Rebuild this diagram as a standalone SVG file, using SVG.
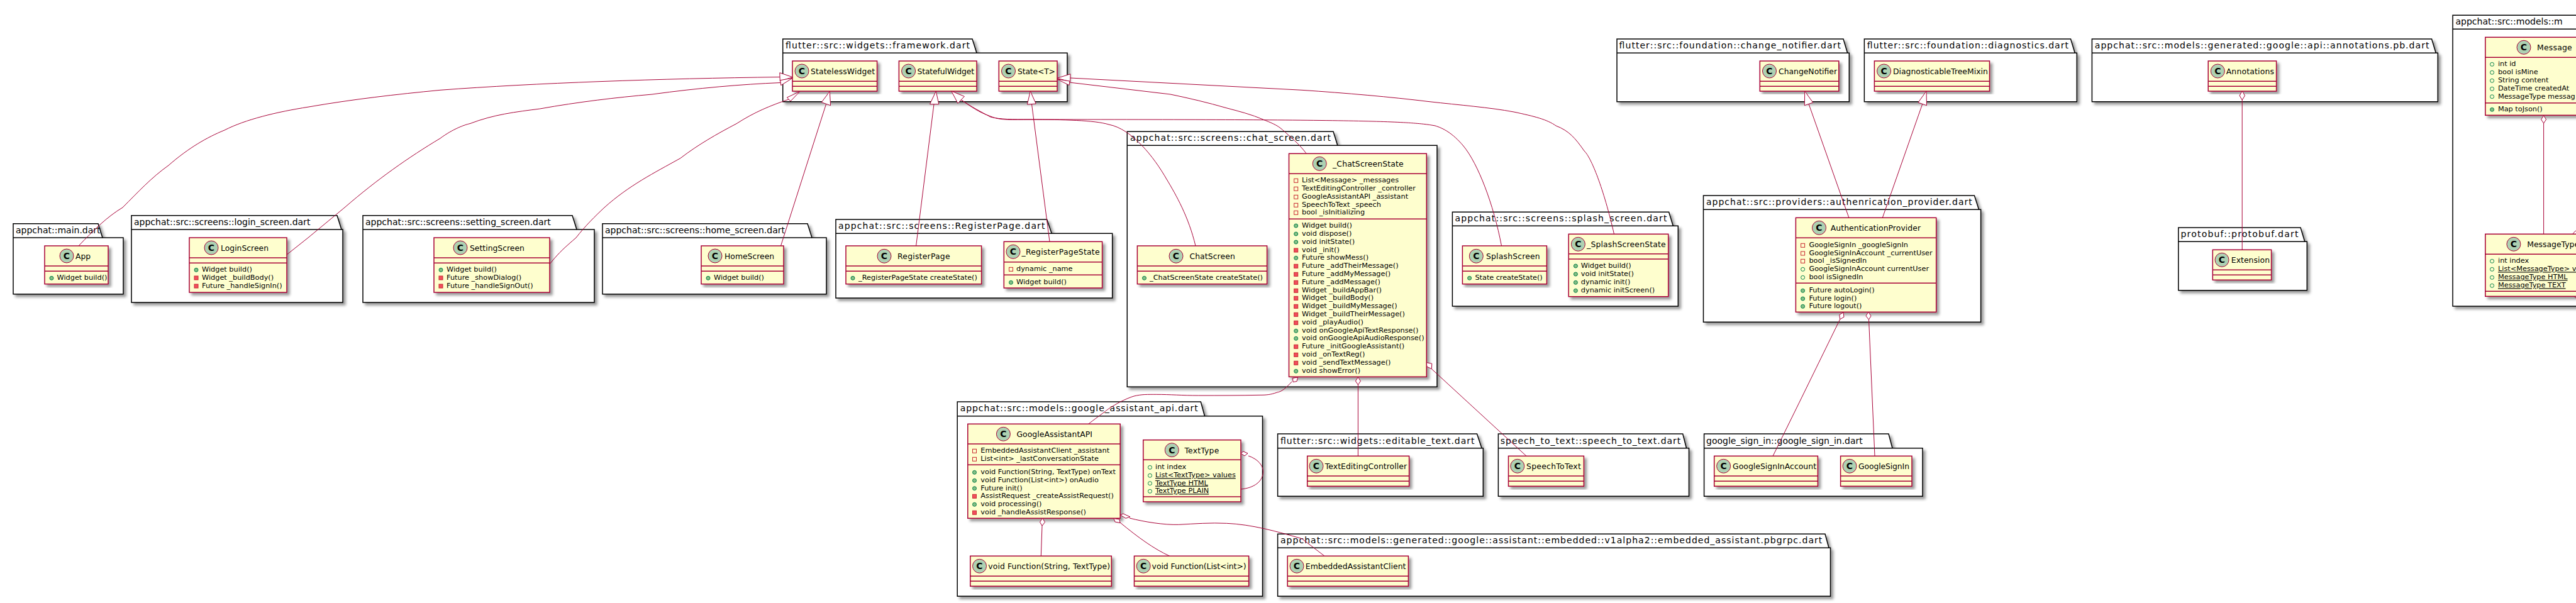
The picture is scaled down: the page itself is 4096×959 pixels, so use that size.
<svg xmlns="http://www.w3.org/2000/svg" width="4096" height="959" viewBox="0 0 4096 959">
<style>
text{font-family:"DejaVu Sans",sans-serif;fill:#000}
.t{font-size:14px}.n{font-size:12.4px}.m{font-size:11.3px}
.u{text-decoration:underline}
.c{font-size:14px;font-weight:bold;text-anchor:middle}
.p{fill:#fff;stroke:#000;stroke-width:1.5}
.pl{fill:none;stroke:#000;stroke-width:1.5}
.b{fill:#FEFECE;stroke:#A80036;stroke-width:1.5}
.d{stroke:#A80036;stroke-width:1.5;fill:none}
.o{fill:#ADD1B2;stroke:#A80036;stroke-width:1}
.k{fill:none;stroke:#C82930}.kf{fill:#F24D5C;stroke:#C82930}
.g{fill:none;stroke:#038048}.gf{fill:#84BE84;stroke:#038048}
#connectors path{fill:none;stroke:#A80036;stroke-width:1}
#connectors polygon{fill:#fff;stroke:#A80036;stroke-width:1}
</style>
<defs><filter id="s" x="-10%" y="-10%" width="120%" height="120%"><feGaussianBlur stdDeviation="2"/><feColorMatrix values="0 0 0 0 0 0 0 0 0 0 0 0 0 0 0 0 0 0 0.4 0"/><feOffset dx="4" dy="4" result="o"/><feBlend in="SourceGraphic" in2="o"/></filter></defs>

<g id="pkg-framework"><path class="p" filter="url(#s)" d="M1244.7 84.3V62H1546L1553 84.3H1697V161.7H1244.7Z"/><path class="pl" d="M1244.7 84.3H1553"/><text class="t" x="1249" y="77" textLength="293">flutter::src::widgets::framework.dart</text></g>
<g id="StatelessWidget"><rect class="b" filter="url(#s)" x="1260" y="97" width="134.6" height="48"/><path class="d" d="M1260 129.3H1394.6M1260 137.3H1394.6"/><circle class="o" cx="1275" cy="113" r="11"/><text class="c" x="1275" y="118">C</text><text class="n" x="1289" y="118" textLength="102">StatelessWidget</text></g>
<g id="StatefulWidget"><rect class="b" filter="url(#s)" x="1429.4" y="97" width="123.6" height="48"/><path class="d" d="M1429.4 129.3H1553M1429.4 137.3H1553"/><circle class="o" cx="1444.6" cy="113" r="11"/><text class="c" x="1444.6" y="118">C</text><text class="n" x="1458.4" y="118" textLength="90.6">StatefulWidget</text></g>
<g id="State"><rect class="b" filter="url(#s)" x="1588.3" y="97" width="92.7" height="48"/><path class="d" d="M1588.3 129.3H1681M1588.3 137.3H1681"/><circle class="o" cx="1603.5" cy="113" r="11"/><text class="c" x="1603.5" y="118">C</text><text class="n" x="1618" y="118" textLength="60">State&lt;T&gt;</text></g>

<g id="pkg-change"><path class="p" filter="url(#s)" d="M2571 84.3V62H2931L2937.6 84.3H2940.3V161.7H2571Z"/><path class="pl" d="M2571 84.3H2937.6"/><text class="t" x="2574.6" y="77" textLength="352.3">flutter::src::foundation::change_notifier.dart</text></g>
<g id="ChangeNotifier"><rect class="b" filter="url(#s)" x="2798.3" y="97" width="125.5" height="48"/><path class="d" d="M2798.3 129.3H2923.8M2798.3 137.3H2923.8"/><circle class="o" cx="2813.5" cy="113" r="11"/><text class="c" x="2813.5" y="118">C</text><text class="n" x="2828" y="118" textLength="93">ChangeNotifier</text></g>

<g id="pkg-diag"><path class="p" filter="url(#s)" d="M2964.4 84.3V62H3292.5L3299.2 84.3H3302.3V161.7H2964.4Z"/><path class="pl" d="M2964.4 84.3H3299.2"/><text class="t" x="2968.8" y="77" textLength="320.2">flutter::src::foundation::diagnostics.dart</text></g>
<g id="DiagnosticableTreeMixin"><rect class="b" filter="url(#s)" x="2980.4" y="97" width="183.1" height="48"/><path class="d" d="M2980.4 129.3H3163.5M2980.4 137.3H3163.5"/><circle class="o" cx="2995.6" cy="113" r="11"/><text class="c" x="2995.6" y="118">C</text><text class="n" x="3010" y="118" textLength="150.8">DiagnosticableTreeMixin</text></g>

<g id="pkg-annot"><path class="p" filter="url(#s)" d="M3326.4 84.3V62H3866.5L3873.2 84.3H3876.3V161.7H3326.4Z"/><path class="pl" d="M3326.4 84.3H3873.2"/><text class="t" x="3330.8" y="77" textLength="531.7">appchat::src::models::generated::google::api::annotations.pb.dart</text></g>
<g id="Annotations"><rect class="b" filter="url(#s)" x="3511.2" y="97" width="108.4" height="48"/><path class="d" d="M3511.2 129.3H3619.6M3511.2 137.3H3619.6"/><circle class="o" cx="3526.3" cy="113" r="11"/><text class="c" x="3526.3" y="118">C</text><text class="n" x="3539.7" y="118" textLength="76.3">Annotations</text></g>

<g id="pkg-protobuf"><path class="p" filter="url(#s)" d="M3463.8 384.3V362H3658L3664.7 384.3H3668.3V461.7H3463.8Z"/><path class="pl" d="M3463.8 384.3H3664.7"/><text class="t" x="3467.4" y="377" textLength="187">protobuf::protobuf.dart</text></g>
<g id="Extension"><rect class="b" filter="url(#s)" x="3518.3" y="397.3" width="93.3" height="48"/><path class="d" d="M3518.3 429.3H3611.6M3518.3 437.3H3611.6"/><circle class="o" cx="3533" cy="413.3" r="11"/><text class="c" x="3533" y="418.3">C</text><text class="n" x="3547.8" y="418.3" textLength="61.2">Extension</text></g>

<g id="pkg-message"><path class="p" filter="url(#s)" d="M3900 46.3V24.3H4120L4127 46.3H4200V487H3900Z"/><path class="pl" d="M3900 46.3H4127"/><text class="t" x="3904.5" y="39">appchat::src::models::m</text></g>
<g id="Message"><rect class="b" filter="url(#s)" x="3951.8" y="59.3" width="190" height="124"/><path class="d" d="M3951.8 91.3H4141.8M3951.8 163.7H4141.8"/><circle class="o" cx="4013" cy="75.3" r="11"/><text class="c" x="4013" y="80.3">C</text><text class="n" x="4034" y="80.3" textLength="55.7">Message</text>
<circle class="g" cx="3962.5" cy="102.3" r="3"/><text class="m" x="3971.9" y="105.3">int id</text>
<circle class="g" cx="3962.5" cy="115.3" r="3"/><text class="m" x="3971.9" y="118.3">bool isMine</text>
<circle class="g" cx="3962.5" cy="128.3" r="3"/><text class="m" x="3971.9" y="131.3">String content</text>
<circle class="g" cx="3962.5" cy="141.3" r="3"/><text class="m" x="3971.9" y="144.3">DateTime createdAt</text>
<circle class="g" cx="3962.5" cy="153.7" r="3"/><text class="m" x="3971.9" y="156.7">MessageType messag</text>
<circle class="gf" cx="3962.5" cy="174.3" r="3"/><text class="m" x="3971.9" y="177.3">Map toJson()</text></g>
<g id="MessageType"><rect class="b" filter="url(#s)" x="3951.8" y="372.3" width="190" height="99"/><path class="d" d="M3951.8 404.3H4141.8M3951.8 463.3H4141.8"/><circle class="o" cx="3996.9" cy="388.3" r="11"/><text class="c" x="3996.9" y="393.3">C</text><text class="n" x="4018.3" y="393.3">MessageType</text>
<circle class="g" cx="3962.5" cy="415.3" r="3"/><text class="m" x="3972" y="418.3">int index</text>
<circle class="g" cx="3962.5" cy="428.3" r="3"/><text class="m u" x="3972" y="431.3">List&lt;MessageType&gt; v</text>
<circle class="g" cx="3962.5" cy="441.3" r="3"/><text class="m u" x="3972" y="444.3">MessageType HTML</text>
<circle class="g" cx="3962.5" cy="454.3" r="3"/><text class="m u" x="3972" y="457.3">MessageType TEXT</text></g>

<g id="pkg-main"><path class="p" filter="url(#s)" d="M21 378V355.7H156L163 378H196V467.7H21Z"/><path class="pl" d="M21 378H163"/><text class="t" x="25" y="370.7">appchat::main.dart</text></g>
<g id="App"><rect class="b" filter="url(#s)" x="71" y="391" width="101" height="60.7"/><path class="d" d="M71 423H172M71 431.3H172"/><circle class="o" cx="106" cy="407" r="11"/><text class="c" x="106" y="412">C</text><text class="n" x="120" y="412">App</text><circle class="gf" cx="82" cy="442.3" r="3"/><text class="m" x="90.5" y="445.3">Widget build()</text></g>

<g id="pkg-login"><path class="p" filter="url(#s)" d="M209 365V342.7H536L543 365H545V481H209Z"/><path class="pl" d="M209 365H543"/><text class="t" x="213" y="358">appchat::src::screens::login_screen.dart</text></g>
<g id="LoginScreen"><rect class="b" filter="url(#s)" x="301" y="378" width="155" height="87"/><path class="d" d="M301 410H456M301 418.3H456"/><circle class="o" cx="336" cy="394" r="11"/><text class="c" x="336" y="399">C</text><text class="n" x="351" y="399">LoginScreen</text>
<circle class="gf" cx="312" cy="429.3" r="3"/><text class="m" x="321" y="432.3">Widget build()</text>
<rect class="kf" x="309" y="439" width="6" height="6"/><text class="m" x="321" y="445.3">Widget _buildBody()</text>
<rect class="kf" x="309" y="452" width="6" height="6"/><text class="m" x="321" y="458.3">Future _handleSignIn()</text></g>

<g id="pkg-setting"><path class="p" filter="url(#s)" d="M577 365V342.7H910L917 365H945V481H577Z"/><path class="pl" d="M577 365H917"/><text class="t" x="581" y="358">appchat::src::screens::setting_screen.dart</text></g>
<g id="SettingScreen"><rect class="b" filter="url(#s)" x="690" y="378" width="184" height="87"/><path class="d" d="M690 410H874M690 418.3H874"/><circle class="o" cx="732" cy="394" r="11"/><text class="c" x="732" y="399">C</text><text class="n" x="747" y="399">SettingScreen</text>
<circle class="gf" cx="701" cy="429.3" r="3"/><text class="m" x="710" y="432.3">Widget build()</text>
<rect class="kf" x="698" y="439" width="6" height="6"/><text class="m" x="710" y="445.3">Future _showDialog()</text>
<rect class="kf" x="698" y="452" width="6" height="6"/><text class="m" x="710" y="458.3">Future _handleSignOut()</text></g>

<g id="pkg-home"><path class="p" filter="url(#s)" d="M958 378V355.7H1284L1291 378H1314V467.7H958Z"/><path class="pl" d="M958 378H1291"/><text class="t" x="962" y="370.7">appchat::src::screens::home_screen.dart</text></g>
<g id="HomeScreen"><rect class="b" filter="url(#s)" x="1115" y="391" width="131" height="60.7"/><path class="d" d="M1115 423H1246M1115 431.3H1246"/><circle class="o" cx="1137" cy="407" r="11"/><text class="c" x="1137" y="412">C</text><text class="n" x="1152" y="412">HomeScreen</text><circle class="gf" cx="1126" cy="442.3" r="3"/><text class="m" x="1135" y="445.3">Widget build()</text></g>

<g id="pkg-register"><path class="p" filter="url(#s)" d="M1329 371.3V349H1664.6L1672.2 371.3H1768.7V474H1329Z"/><path class="pl" d="M1329 371.3H1672.2"/><text class="t" x="1333" y="364" textLength="328.5">appchat::src::screens::RegisterPage.dart</text></g>
<g id="RegisterPage"><rect class="b" filter="url(#s)" x="1345" y="391" width="215.6" height="60.7"/><path class="d" d="M1345 423H1560.6M1345 431.3H1560.6"/><circle class="o" cx="1406" cy="407.3" r="11"/><text class="c" x="1406" y="412.3">C</text><text class="n" x="1427" y="412.3" textLength="83.6">RegisterPage</text><circle class="gf" cx="1356" cy="442.3" r="3"/><text class="m" x="1365" y="445.3" textLength="189">_RegisterPageState createState()</text></g>
<g id="_RegisterPageState"><rect class="b" filter="url(#s)" x="1596.3" y="384.3" width="156.3" height="73.7"/><path class="d" d="M1596.3 416.7H1752.6M1596.3 437.3H1752.6"/><circle class="o" cx="1611" cy="400.3" r="11"/><text class="c" x="1611" y="405.3">C</text><text class="n" x="1624.5" y="405.3" textLength="124">_RegisterPageState</text>
<rect class="k" x="1604.5" y="425.3" width="6" height="6"/><text class="m" x="1616" y="431.3">dynamic _name</text>
<circle class="gf" cx="1607.5" cy="449.3" r="3"/><text class="m" x="1616" y="452.3">Widget build()</text></g>

<g id="pkg-chat"><path class="p" filter="url(#s)" d="M1792.3 231.3V209.3H2120L2126.8 231.3H2285V615.3H1792.3Z"/><path class="pl" d="M1792.3 231.3H2126.8"/><text class="t" x="1797" y="224" textLength="319">appchat::src::screens::chat_screen.dart</text></g>
<g id="ChatScreen"><rect class="b" filter="url(#s)" x="1808.4" y="391" width="206.2" height="60.7"/><path class="d" d="M1808.4 423H2014.6M1808.4 431.3H2014.6"/><circle class="o" cx="1870" cy="407.3" r="11"/><text class="c" x="1870" y="412.3">C</text><text class="n" x="1891.4" y="412.3" textLength="72.4">ChatScreen</text><circle class="gf" cx="1819.5" cy="442.3" r="3"/><text class="m" x="1828" y="445.3" textLength="180">_ChatScreenState createState()</text></g>
<g id="_ChatScreenState"><rect class="b" filter="url(#s)" x="2049.5" y="244.3" width="218.8" height="355"/><path class="d" d="M2049.5 276.3H2268.3M2049.5 348.3H2268.3"/><circle class="o" cx="2098.2" cy="260.3" r="11"/><text class="c" x="2098.2" y="265.3">C</text><text class="n" x="2119" y="265.3" textLength="112.7">_ChatScreenState</text>
<rect class="k" x="2057.7" y="284.3" width="6" height="6"/><text class="m" x="2070" y="290.3">List&lt;Message&gt; _messages</text>
<rect class="k" x="2057.7" y="297.3" width="6" height="6"/><text class="m" x="2070" y="303.3">TextEditingController _controller</text>
<rect class="k" x="2057.7" y="310.3" width="6" height="6"/><text class="m" x="2070" y="316.3">GoogleAssistantAPI _assistant</text>
<rect class="k" x="2057.7" y="323.3" width="6" height="6"/><text class="m" x="2070" y="329.3">SpeechToText _speech</text>
<rect class="k" x="2057.7" y="335.3" width="6" height="6"/><text class="m" x="2070" y="341.3">bool _isInitializing</text>
<circle class="gf" cx="2060.7" cy="359" r="3"/><text class="m" x="2070" y="362">Widget build()</text>
<circle class="gf" cx="2060.7" cy="372" r="3"/><text class="m" x="2070" y="375">void dispose()</text>
<circle class="gf" cx="2060.7" cy="385" r="3"/><text class="m" x="2070" y="388">void initState()</text>
<rect class="kf" x="2057.7" y="395" width="6" height="6"/><text class="m" x="2070" y="401">void _init()</text>
<circle class="gf" cx="2060.7" cy="410.3" r="3"/><text class="m" x="2070" y="413.3">Future showMess()</text>
<rect class="kf" x="2057.7" y="420.3" width="6" height="6"/><text class="m" x="2070" y="426.3">Future _addTheirMessage()</text>
<rect class="kf" x="2057.7" y="433.3" width="6" height="6"/><text class="m" x="2070" y="439.3">Future _addMyMessage()</text>
<rect class="kf" x="2057.7" y="446.3" width="6" height="6"/><text class="m" x="2070" y="452.3">Future _addMessage()</text>
<rect class="kf" x="2057.7" y="459.3" width="6" height="6"/><text class="m" x="2070" y="465.3">Widget _buildAppBar()</text>
<rect class="kf" x="2057.7" y="471.3" width="6" height="6"/><text class="m" x="2070" y="477.3">Widget _buildBody()</text>
<rect class="kf" x="2057.7" y="484.3" width="6" height="6"/><text class="m" x="2070" y="490.3">Widget _buildMyMessage()</text>
<rect class="kf" x="2057.7" y="497.3" width="6" height="6"/><text class="m" x="2070" y="503.3">Widget _buildTheirMessage()</text>
<rect class="kf" x="2057.7" y="510.3" width="6" height="6"/><text class="m" x="2070" y="516.3">void _playAudio()</text>
<circle class="gf" cx="2060.7" cy="526.3" r="3"/><text class="m" x="2070" y="529.3">void onGoogleApiTextResponse()</text>
<circle class="gf" cx="2060.7" cy="538.3" r="3"/><text class="m" x="2070" y="541.3">void onGoogleApiAudioResponse()</text>
<rect class="kf" x="2057.7" y="548.3" width="6" height="6"/><text class="m" x="2070" y="554.3">Future _initGoogleAssistant()</text>
<rect class="kf" x="2057.7" y="561.3" width="6" height="6"/><text class="m" x="2070" y="567.3">void _onTextReg()</text>
<rect class="kf" x="2057.7" y="574.3" width="6" height="6"/><text class="m" x="2070" y="580.3">void _sendTextMessage()</text>
<circle class="gf" cx="2060.7" cy="590.3" r="3"/><text class="m" x="2070" y="593.3">void showError()</text></g>

<g id="pkg-splash"><path class="p" filter="url(#s)" d="M2309.4 359.3V337.3H2653.6L2660.3 359.3H2668.3V487H2309.4Z"/><path class="pl" d="M2309.4 359.3H2660.3"/><text class="t" x="2313.4" y="352" textLength="337">appchat::src::screens::splash_screen.dart</text></g>
<g id="SplashScreen"><rect class="b" filter="url(#s)" x="2325.4" y="391" width="134" height="60.7"/><path class="d" d="M2325.4 423H2459.4M2325.4 431.3H2459.4"/><circle class="o" cx="2347.3" cy="407.3" r="11"/><text class="c" x="2347.3" y="412.3">C</text><text class="n" x="2363" y="412.3" textLength="85.7">SplashScreen</text><circle class="gf" cx="2336.6" cy="442.3" r="3"/><text class="m" x="2345.5" y="445.3" textLength="107.2">State createState()</text></g>
<g id="_SplashScreenState"><rect class="b" filter="url(#s)" x="2494.2" y="372.3" width="158.5" height="99.4"/><path class="d" d="M2494.2 403.7H2652.7M2494.2 412H2652.7"/><circle class="o" cx="2509.4" cy="388.3" r="11"/><text class="c" x="2509.4" y="393.3">C</text><text class="n" x="2523" y="393.3" textLength="125.7">_SplashScreenState</text>
<circle class="gf" cx="2505.4" cy="423" r="3"/><text class="m" x="2513.8" y="426">Widget build()</text>
<circle class="gf" cx="2505.4" cy="436" r="3"/><text class="m" x="2513.8" y="439">void initState()</text>
<circle class="gf" cx="2505.4" cy="449.3" r="3"/><text class="m" x="2513.8" y="452.3">dynamic init()</text>
<circle class="gf" cx="2505.4" cy="462.3" r="3"/><text class="m" x="2513.8" y="465.3">dynamic initScreen()</text></g>

<g id="pkg-auth"><path class="p" filter="url(#s)" d="M2708.5 333.3V311H3139.4L3146.5 333.3H3149.6V512.3H2708.5Z"/><path class="pl" d="M2708.5 333.3H3146.5"/><text class="t" x="2713" y="326" textLength="422.8">appchat::src::providers::authenrication_provider.dart</text></g>
<g id="AuthenticationProvider"><rect class="b" filter="url(#s)" x="2855.4" y="346.3" width="223.3" height="150"/><path class="d" d="M2855.4 378.3H3078.7M2855.4 450.3H3078.7"/><circle class="o" cx="2892.5" cy="362.3" r="11"/><text class="c" x="2892.5" y="367.3">C</text><text class="n" x="2910.8" y="367.3" textLength="143.2">AuthenticationProvider</text>
<rect class="k" x="2863.6" y="387.3" width="6" height="6"/><text class="m" x="2876.4" y="393.3">GoogleSignIn _googleSignIn</text>
<rect class="k" x="2863.6" y="400" width="6" height="6"/><text class="m" x="2876.4" y="406">GoogleSignInAccount _currentUser</text>
<rect class="k" x="2863.6" y="412.3" width="6" height="6"/><text class="m" x="2876.4" y="418.3">bool _isSignedIn</text>
<circle class="g" cx="2866.6" cy="428.3" r="3"/><text class="m" x="2876.4" y="431.3">GoogleSignInAccount currentUser</text>
<circle class="g" cx="2866.6" cy="441.3" r="3"/><text class="m" x="2876.4" y="444.3">bool isSignedIn</text>
<circle class="gf" cx="2866.6" cy="462.3" r="3"/><text class="m" x="2876.4" y="465.3">Future autoLogin()</text>
<circle class="gf" cx="2866.6" cy="475" r="3"/><text class="m" x="2876.4" y="478">Future login()</text>
<circle class="gf" cx="2866.6" cy="487.3" r="3"/><text class="m" x="2876.4" y="490.3">Future logout()</text></g>

<g id="pkg-assistant"><path class="p" filter="url(#s)" d="M1522.2 661.7V639H1909.3L1915.5 661.7H2007.5V948.3H1522.2Z"/><path class="pl" d="M1522.2 661.7H1915.5"/><text class="t" x="1526.7" y="654" textLength="378">appchat::src::models::google_assistant_api.dart</text></g>
<g id="GoogleAssistantAPI"><rect class="b" filter="url(#s)" x="1538.8" y="674.3" width="242.4" height="150"/><path class="d" d="M1538.8 706H1781.2M1538.8 739.3H1781.2"/><circle class="o" cx="1595.4" cy="690.3" r="11"/><text class="c" x="1595.4" y="695.3">C</text><text class="n" x="1616.4" y="695.3" textLength="120.6">GoogleAssistantAPI</text>
<rect class="k" x="1546.5" y="714.3" width="6" height="6"/><text class="m" x="1559.3" y="720.3">EmbeddedAssistantClient _assistant</text>
<rect class="k" x="1546.5" y="727.3" width="6" height="6"/><text class="m" x="1559.3" y="733.3">List&lt;int&gt; _lastConversationState</text>
<circle class="gf" cx="1549.5" cy="751.3" r="3"/><text class="m" x="1559.3" y="754.3">void Function(String, TextType) onText</text>
<circle class="gf" cx="1549.5" cy="764.3" r="3"/><text class="m" x="1559.3" y="767.3">void Function(List&lt;int&gt;) onAudio</text>
<circle class="gf" cx="1549.5" cy="776.7" r="3"/><text class="m" x="1559.3" y="779.7">Future init()</text>
<rect class="kf" x="1546.5" y="786.3" width="6" height="6"/><text class="m" x="1559.3" y="792.3">AssistRequest _createAssistRequest()</text>
<circle class="gf" cx="1549.5" cy="802.3" r="3"/><text class="m" x="1559.3" y="805.3">void processing()</text>
<rect class="kf" x="1546.5" y="812.3" width="6" height="6"/><text class="m" x="1559.3" y="818.3">void _handleAssistResponse()</text></g>
<g id="TextType"><rect class="b" filter="url(#s)" x="1817.8" y="699.7" width="155.2" height="98.3"/><path class="d" d="M1817.8 731.3H1973M1817.8 790H1973"/><circle class="o" cx="1863.3" cy="715.7" r="11"/><text class="c" x="1863.3" y="720.7">C</text><text class="n" x="1883.4" y="720.7" textLength="54.9">TextType</text>
<circle class="g" cx="1828.5" cy="743.3" r="3"/><text class="m" x="1837" y="746.3">int index</text>
<circle class="g" cx="1828.5" cy="756.3" r="3"/><text class="m u" x="1837" y="759.3">List&lt;TextType&gt; values</text>
<circle class="g" cx="1828.5" cy="768.7" r="3"/><text class="m u" x="1837" y="771.7">TextType HTML</text>
<circle class="g" cx="1828.5" cy="781.3" r="3"/><text class="m u" x="1837" y="784.3">TextType PLAIN</text></g>
<g id="FunctionStringTextType"><rect class="b" filter="url(#s)" x="1542.8" y="884.3" width="224.5" height="48"/><path class="d" d="M1542.8 916.3H1767.3M1542.8 924.3H1767.3"/><circle class="o" cx="1557.5" cy="900.3" r="11"/><text class="c" x="1557.5" y="905.3">C</text><text class="n" x="1571.3" y="905.3" textLength="193.7">void Function(String, TextType)</text></g>
<g id="FunctionListInt"><rect class="b" filter="url(#s)" x="1803.5" y="884.3" width="182.1" height="48"/><path class="d" d="M1803.5 916.3H1985.6M1803.5 924.3H1985.6"/><circle class="o" cx="1818.2" cy="900.3" r="11"/><text class="c" x="1818.2" y="905.3">C</text><text class="n" x="1831.6" y="905.3" textLength="150">void Function(List&lt;int&gt;)</text></g>

<g id="pkg-editable"><path class="p" filter="url(#s)" d="M2031.6 712.7V690H2348.5L2356 712.7H2358.3V789.3H2031.6Z"/><path class="pl" d="M2031.6 712.7H2356"/><text class="t" x="2036" y="705.5" textLength="308.5">flutter::src::widgets::editable_text.dart</text></g>
<g id="TextEditingController"><rect class="b" filter="url(#s)" x="2078.7" y="725.3" width="161.9" height="48"/><path class="d" d="M2078.7 757H2240.6M2078.7 765.3H2240.6"/><circle class="o" cx="2093" cy="741.3" r="11"/><text class="c" x="2093" y="746.3">C</text><text class="n" x="2106.8" y="746.3" textLength="130.2">TextEditingController</text></g>

<g id="pkg-speech"><path class="p" filter="url(#s)" d="M2382.4 712.7V690H2675.7L2681.5 712.7H2685.5V789.3H2382.4Z"/><path class="pl" d="M2382.4 712.7H2681.5"/><text class="t" x="2385.8" y="705.5" textLength="286.5">speech_to_text::speech_to_text.dart</text></g>
<g id="SpeechToText"><rect class="b" filter="url(#s)" x="2398.5" y="725.3" width="119.9" height="48"/><path class="d" d="M2398.5 757H2518.4M2398.5 765.3H2518.4"/><circle class="o" cx="2412.8" cy="741.3" r="11"/><text class="c" x="2412.8" y="746.3">C</text><text class="n" x="2427" y="746.3" textLength="86.8">SpeechToText</text></g>

<g id="pkg-signin"><path class="p" filter="url(#s)" d="M2709.6 712.7V690H3003L3009 712.7H3057V789.3H2709.6Z"/><path class="pl" d="M2709.6 712.7H3009"/><text class="t" x="2713" y="705.5">google_sign_in::google_sign_in.dart</text></g>
<g id="GoogleSignInAccount"><rect class="b" filter="url(#s)" x="2725.7" y="725.3" width="164.7" height="48"/><path class="d" d="M2725.7 757H2890.4M2725.7 765.3H2890.4"/><circle class="o" cx="2740.6" cy="741.3" r="11"/><text class="c" x="2740.6" y="746.3">C</text><text class="n" x="2755" y="746.3" textLength="133">GoogleSignInAccount</text></g>
<g id="GoogleSignIn"><rect class="b" filter="url(#s)" x="2926.6" y="725.3" width="113.4" height="48"/><path class="d" d="M2926.6 757H3040M2926.6 765.3H3040"/><circle class="o" cx="2941" cy="741.3" r="11"/><text class="c" x="2941" y="746.3">C</text><text class="n" x="2955" y="746.3" textLength="81">GoogleSignIn</text></g>

<g id="pkg-embedded"><path class="p" filter="url(#s)" d="M2031.6 871.3V849.3H2902L2908 871.3H2910.5V948.3H2031.6Z"/><path class="pl" d="M2031.6 871.3H2908"/><text class="t" x="2036" y="864" textLength="861.3">appchat::src::models::generated::google::assistant::embedded::v1alpha2::embedded_assistant.pbgrpc.dart</text></g>
<g id="EmbeddedAssistantClient"><rect class="b" filter="url(#s)" x="2047.2" y="884.3" width="192.2" height="48"/><path class="d" d="M2047.2 916.3H2239.4M2047.2 924.3H2239.4"/><circle class="o" cx="2062" cy="900.3" r="11"/><text class="c" x="2062" y="905.3">C</text><text class="n" x="2075.8" y="905.3" textLength="159.6">EmbeddedAssistantClient</text></g>

<g id="connectors">
<path d="M125 391C150 365 170 345 195 330C220 305 240 283 268 263C300 235 330 218 357 207C390 190 440 178 491 170C560 158 630 150 700 143.3C850 132 1050 125 1240 122.5"/>
<polygon points="1239.8,115.7 1260.4,122.7 1240.3,129"/>
<path d="M456 405L490 378L548 330C600 285 650 250 700 220C720 205 740 198 747 196.7C785 182 820 178 858.6 173C920 162 980 155 1037 150C1110 140 1180 134 1241 131.5"/>
<polygon points="1260.4,124 1240.7,127.7 1241.8,135.7"/>
<path d="M874 420C890 400 900 392 916 378C930 360 945 345 961 330C1000 295 1040 275 1081.8 251.7C1110 230 1140 213 1171 196.7C1200 178 1225 168 1254 158"/>
<polygon points="1271.5,145.7 1251.4,155 1257,161"/>
<path d="M1241.5 391L1313.5 165.7"/>
<polygon points="1319.3,145.3 1306.3,162.7 1320.6,167.7"/>
<path d="M1456.6 391L1485 165.7"/>
<polygon points="1488.3,145 1478.5,165.7 1492.8,165.7"/>
<path d="M1669 384.3L1640.5 165.7"/>
<polygon points="1638.3,145 1633.4,166 1647.2,165"/>
<path d="M1901 391C1890 345 1870 310 1855 285C1835 250 1800 205 1763 198C1740 191 1690 190.3 1638 190C1610 190 1590 192 1575 185C1555 178 1545 170 1528.5 159"/>
<path d="M2387.5 391C2375 325 2350 260 2326.8 232C2310 212 2295 204 2282 200C2240 192 2150 190 1638 190C1610 190 1590 190 1575 186C1560 178 1545 170 1528.5 159"/>
<polygon points="1512.9,145 1523,164.3 1533.4,153.3"/>
<path d="M2566.5 372.3C2550 300 2530 250 2519 240C2505 220 2495 208 2474 200C2460 190 2440 185 2407 178C2370 171 2320 167 2273 161.7C2210 154 2140 148 2070 143.3L1702 124"/>
<polygon points="1681,124.3 1702,117.7 1701.7,130"/>
<path d="M2076.8 243.7C2065 228 2052 218 2039.6 206.7C2030 198 2020 195 2008.4 190C1990 182 1970 177 1950 171.7C1920 163 1890 156 1861 150L1700 131"/>
<polygon points="1681,126 1701,129 1700,135.5"/>
<path d="M2054 607C2045 617 2038 623 2030.7 624C2020 628 2012 628.3 2004 628.3C1970 629 1940 629 1905.7 629C1880 629 1860 627.3 1838.8 627.3C1825 627.3 1815 627 1803 630C1790 634 1775 642 1762.9 650C1750 660 1740 667 1730.7 674.3"/>
<polygon points="2063.5,600 2062,606.5 2056,607.5 2055.5,601.5"/>
<path d="M2159.4 612V725.3"/>
<polygon points="2159.4,600 2163.4,606 2159.4,612 2155.4,606"/>
<path d="M2276.3 586.7L2427 725.3"/>
<polygon points="2268.3,576.7 2276.8,578.3 2276.3,586.7 2268.8,583"/>
<path d="M1657 836.3L1655.3 884.3"/>
<polygon points="1657.5,824.3 1661.5,830.3 1657,836.3 1653.5,830.3"/>
<path d="M1781 831C1810 855 1835 873 1859.7 884.3"/>
<polygon points="1771,824.6 1780,826 1781,831.5 1773,830"/>
<path d="M1796 824C1820 830 1850 835 1874.5 834.3C1900 833 1925 831 1950.4 832.3C1990 834 2030 845 2070 856.7L2105.7 884"/>
<polygon points="1781.5,819 1786,817 1797,822 1790,824.3"/>
<path d="M1985 725C2000 730 2008.4 740 2008.4 750C2008.4 765 1995 776 1973 778"/>
<polygon points="1973,721 1977,718 1984,721 1979,725"/>
<path d="M4096 367C4094 368 4092 370 4091 372.3"/>
<path d="M4096 474C4095 473 4094 472 4093 471.3"/>
<path d="M2876 165.3L2939.8 346"/>
<polygon points="2869.7,145 2869.3,167.7 2882.7,163"/>
<path d="M3056.8 165.3L2993.4 346"/>
<polygon points="3063,145 3050,163 3063.5,167.7"/>
<path d="M2925.7 507.8L2861 640L2819 725.3"/>
<polygon points="2931,497 2932,504.2 2925.7,507.8 2924.8,500.6"/>
<path d="M2971.5 508.3L2981 725.3"/>
<polygon points="2970.7,496.3 2975,502.5 2971.5,508.3 2967,502.5"/>
<path d="M3565.2 159V397.3"/>
<polygon points="3565.2,145 3569.5,152 3565.2,159 3561,152"/>
<path d="M4044.6 196V372.3"/>
<polygon points="4044.6,184 4048.6,190 4044.6,196 4040.6,190"/>
</g>
</svg>
